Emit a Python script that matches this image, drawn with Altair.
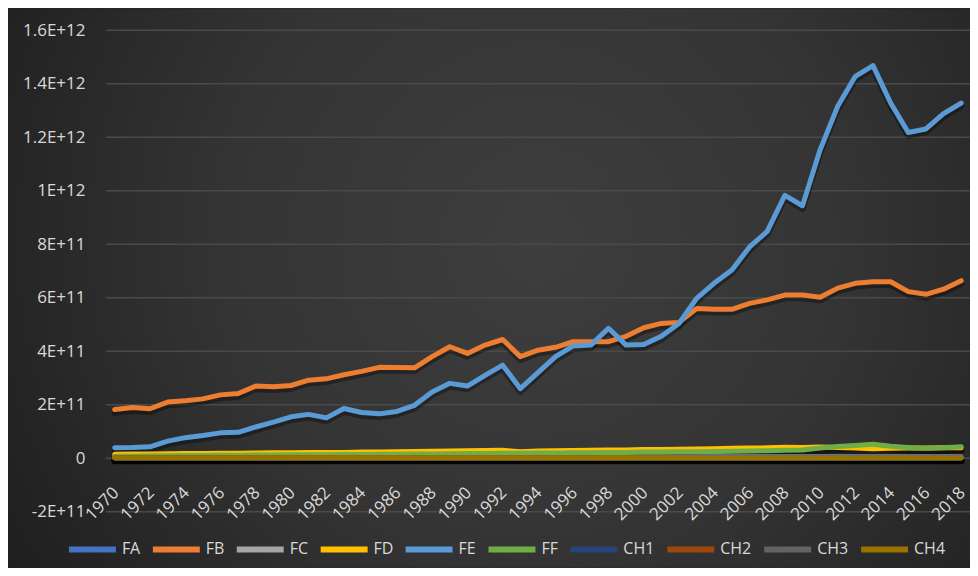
import altair as alt
import pandas as pd

years = list(range(1970, 2019))
series = ["FA", "FB", "FC", "FD", "FE", "FF", "CH1", "CH2", "CH3", "CH4"]
colors = ["#4472C4", "#ED7D31", "#A5A5A5", "#FFC000", "#5B9BD5", "#70AD47",
          "#264478", "#9E480E", "#636363", "#997300"]

# values in billions (1E+09)
FA = [4, 4, 4, 4, 5, 5, 5, 5, 5, 5, 5, 5, 5, 5, 5, 5, 5, 5, 6, 6, 6, 6, 6, 5, 5,
      6, 6, 6, 6, 6, 6, 6, 6, 6, 7, 7, 7, 7, 7, 7, 7, 7, 7, 7, 7, 7, 7, 7, 7]
FB = [182, 190, 185, 210, 215, 222, 237, 242, 270, 267, 272, 292, 297, 312, 325,
      340, 339, 338, 380, 417, 392, 423, 444, 380, 404, 415, 436, 436, 436, 456,
      488, 504, 508, 560, 557, 557, 579, 592, 610, 610, 602, 636, 654, 660, 660,
      623, 613, 632, 664]
FC = [2, 2, 2, 2, 2, 2, 2, 2, 2, 2, 2, 2, 2, 2, 2, 2, 2, 2, 2, 2, 2, 2, 2, 2, 2,
      2, 2, 2, 2, 2, 2, 2, 2, 2, 2, 2, 2, 2, 2, 2, 2, 2, 2, 2, 2, 2, 2, 2, 2]
FD = [15, 16, 16, 17, 18, 18, 19, 19, 20, 21, 21, 22, 22, 22, 23, 23, 24, 25, 26,
      27, 28, 29, 30, 24, 27, 28, 29, 30, 31, 31, 33, 33, 34, 35, 36, 37, 38, 39,
      41, 40, 42, 40, 38, 36, 37, 38, 38, 39, 39]
FE = [39, 40, 43, 64, 77, 85, 95, 97, 117, 135, 155, 164, 151, 186, 171, 166, 175,
      198, 248, 280, 270, 310, 348, 260, 320, 380, 420, 423, 486, 423, 425, 456,
      504, 598, 655, 704, 790, 848, 983, 944, 1153, 1316, 1428, 1468, 1328, 1218,
      1231, 1288, 1328]
FF = [8, 8, 9, 9, 10, 10, 11, 11, 12, 12, 13, 13, 13, 14, 14, 15, 15, 16, 16, 17,
      18, 18, 19, 19, 20, 20, 21, 21, 22, 22, 23, 23, 24, 24, 25, 26, 27, 28, 30,
      31, 38, 44, 48, 52, 45, 40, 37, 39, 43]
CH1 = [1, 1, 1, 1, 1, 1, 1, 1, 1, 1, 1, 1, 1, 1, 1, 1, 1, 1, 1, 1, 1, 1, 1, 1, 1,
       1, 1, 1, 1, 1, 1, 1, 1, 1, 1, 1, 1, 1, 1, 1, 1, 1, 1, 1, 1, 1, 1, 1, 1]
CH2 = [2, 2, 2, 2, 2, 2, 2, 2, 2, 2, 2, 2, 2, 2, 2, 2, 2, 2, 2, 2, 2, 2, 2, 2, 2,
       2, 2, 2, 2, 2, 2, 2, 2, 2, 2, 2, 2, 2, 2, 2, 2, 2, 2, 2, 2, 2, 2, 2, 2]
CH3 = [1, 1, 1, 1, 1, 1, 1, 1, 1, 1, 1, 1, 1, 1, 1, 1, 1, 1, 1, 1, 1, 1, 1, 1, 1,
       1, 1, 1, 1, 1, 1, 1, 1, 1, 1, 1, 1, 1, 1, 1, 1, 1, 1, 1, 1, 1, 1, 1, 1]
CH4 = [2, 2, 2, 2, 2, 2, 2, 2, 2, 2, 2, 2, 2, 2, 2, 2, 2, 2, 2, 2, 2, 2, 2, 2, 2,
       2, 2, 2, 2, 2, 2, 2, 2, 2, 2, 2, 2, 2, 2, 2, 2, 2, 2, 2, 2, 2, 2, 2, 2]

y_ticks = [-2e11, 0, 2e11, 4e11, 6e11, 8e11, 1e12, 1.2e12, 1.4e12, 1.6e12]
x_ticks = list(range(1970, 2019, 2))

vals = {"FA": FA, "FB": FB, "FC": FC, "FD": FD, "FE": FE, "FF": FF,
        "CH1": CH1, "CH2": CH2, "CH3": CH3, "CH4": CH4}
rows = []
for s in series:
    for yr, v in zip(years, vals[s]):
        rows.append({"year": yr, "series": s, "value": v * 1e9})
df = pd.DataFrame(rows)
grid_df = pd.DataFrame({"value": y_ticks})

FONT = "Open Sans"
LABEL = "#d9d9d9"
W, H = 865, 482
PAD = {"left": 98, "top": 22, "right": 0, "bottom": 56}

x_scale = alt.Scale(domain=[1969.5, 2018.5], nice=False, zero=False)
y_scale = alt.Scale(domain=[-2e11, 1.6e12], nice=False, zero=False)

x_axis = alt.Axis(values=x_ticks, format="d", title=None, grid=False,
                  domain=False, ticks=False, labelAngle=315,
                  labelAlign="right", labelBaseline="middle",
                  labelPadding=32, labelOffset=1, offset=-54, labelFont=FONT,
                  labelFontSize=17, labelColor=LABEL,
                  labelOverlap=False, labelFlush=False, zindex=2)
y_label_expr = ("datum.value == 0 ? '0' : "
                "(round(datum.value / pow(10, floor(log(abs(datum.value)) / LN10 + 1e-9)) * 10) / 10) "
                "+ 'E+' + floor(log(abs(datum.value)) / LN10 + 1e-9)")
y_axis = alt.Axis(values=y_ticks, title=None, domain=False, ticks=False,
                  grid=False, labelExpr=y_label_expr, labelPadding=21,
                  labelFont=FONT, labelFontSize=17, labelColor=LABEL,
                  zindex=2)

x_enc = alt.X("year:Q", scale=x_scale, axis=x_axis)
y_enc = alt.Y("value:Q", scale=y_scale, axis=y_axis)

color_scale = alt.Scale(domain=series, range=colors)

# decorative backdrop with a radial gradient (styling only, not data)
backdrop = alt.Chart(pd.DataFrame({"k": [0]})).mark_rect(
    fill=alt.RadialGradient(
        gradient="radial",
        stops=[alt.GradientStop(offset=0, color="#3e3e3e"),
               alt.GradientStop(offset=0.45, color="#343434"),
               alt.GradientStop(offset=1, color="#1a1a1a")],
        x1=0.55, y1=0.45, r1=0, x2=0.55, y2=0.45, r2=0.72),
).encode(x=alt.value(-PAD["left"]), x2=alt.value(W + PAD["right"]),
         y=alt.value(-PAD["top"]), y2=alt.value(H + PAD["bottom"]))

gridlines = alt.Chart(grid_df).mark_rule(color="#4a4a4a", strokeWidth=1.5).encode(
    y=y_enc)

base = alt.Chart(df)

shadow = base.mark_line(strokeWidth=6.5, strokeCap="round", strokeJoin="round",
                        color="#000000", opacity=0.35, yOffset=3).encode(
    x=x_enc, y=y_enc, detail="series:N")

layers = [backdrop, gridlines, shadow]
for i, s in enumerate(series):
    leg = alt.Legend(title=None, orient="none", legendX=-40, legendY=493,
                     direction="horizontal", symbolType="stroke",
                     symbolSize=2209, symbolStrokeWidth=6, labelFont=FONT,
                     labelFontSize=16, labelColor=LABEL, labelOffset=3,
                     columnPadding=0, padding=0, columns=10)
    layers.append(
        base.transform_filter(alt.datum.series == s)
        .mark_line(strokeWidth=5, strokeCap="round", strokeJoin="round")
        .encode(x=x_enc, y=y_enc,
                color=alt.Color("series:N", scale=color_scale,
                                sort=series, legend=leg))
    )

chart = alt.layer(*layers).properties(
    width=W, height=H,
    padding=PAD,
    autosize=alt.AutoSizeParams(type="none"),
    background="#1e1e1e",
).configure_view(strokeOpacity=0)

chart.save("out.html", embed_options={"renderer": "svg", "actions": False})
